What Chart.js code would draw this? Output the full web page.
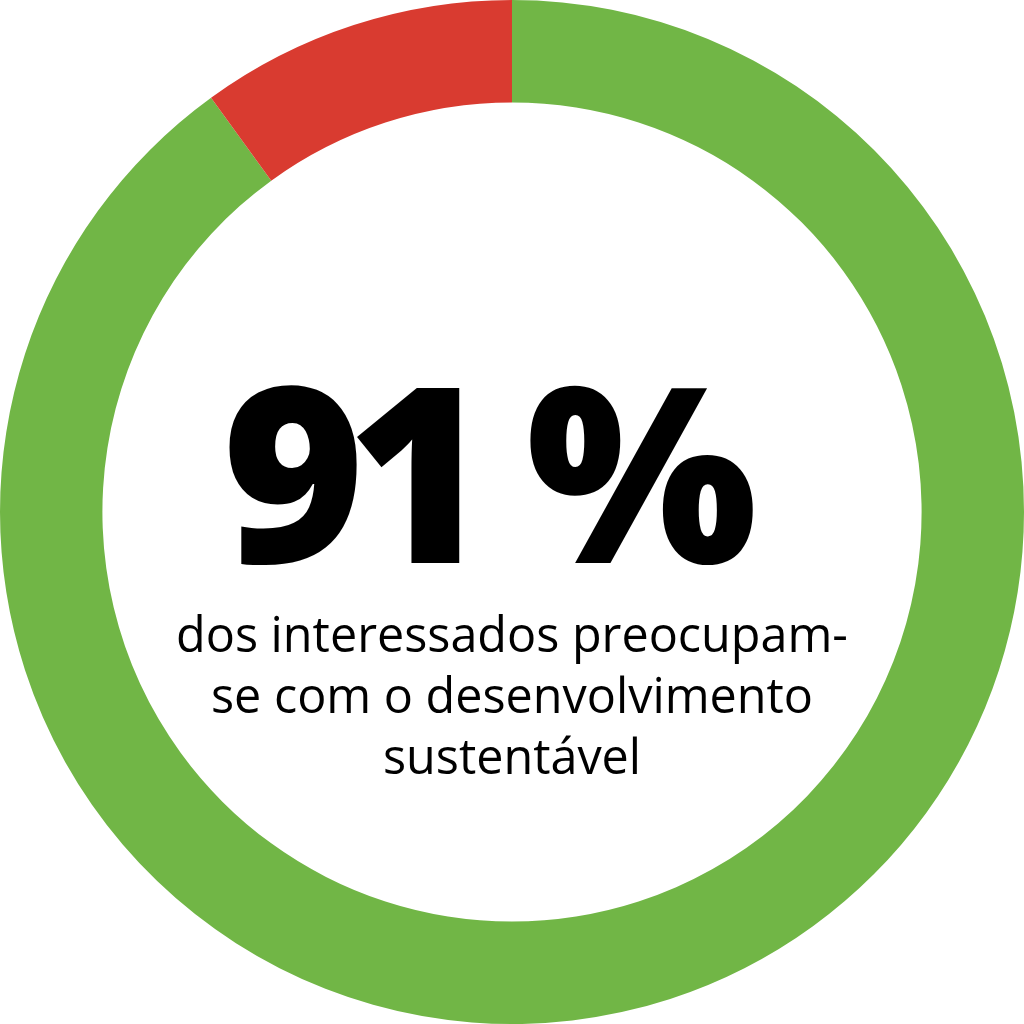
<!DOCTYPE html>
<html>
<head>
<meta charset="utf-8">
<script src="https://cdn.jsdelivr.net/npm/chart.js@4/dist/chart.umd.min.js"></script>
<style>
  html, body { margin: 0; padding: 0; background: #ffffff; }
  #wrap { width: 1024px; height: 1024px; }
</style>
</head>
<body>
<div id="wrap"><canvas id="chart" width="1024" height="1024"></canvas></div>
<script>
// values as drawn: the red slice spans ~36 degrees
const labels = ['Preocupados', 'Não preocupados'];
const shares = [90, 10];
const colors = ['#71b646', '#d93b30'];

const bigNumber = '91';
const bigSign = '%';
const subLines = ['dos interessados preocupam-', 'se com o desenvolvimento', 'sustentável'];

const centerText = {
    id: 'centerText',
    afterDraw(chart) {
        const ctx = chart.ctx;
        const cx = (chart.chartArea.left + chart.chartArea.right) / 2;
        ctx.save();
        ctx.fillStyle = '#000000';
        ctx.textBaseline = 'alphabetic';
        ctx.font = '800 244px "Open Sans"';
        // number and sign drawn apart, number set tight like the original
        ctx.letterSpacing = '-18px';
        ctx.textAlign = 'left';
        ctx.fillText(bigNumber, cx - 290, 563);
        ctx.letterSpacing = '0px';
        ctx.fillText(bigSign, cx + 14, 563);
        ctx.textAlign = 'center';
        ctx.font = '400 48.5px "Open Sans"';
        subLines.forEach((line, i) => {
            ctx.fillText(line, cx, 652 + i * 61);
        });
        ctx.restore();
    }
};

new Chart(document.getElementById('chart').getContext('2d'), {
    type: 'doughnut',
    data: {
        labels: labels,
        datasets: [{
            data: shares,
            backgroundColor: colors,
            borderWidth: 0
        }]
    },
    options: {
        responsive: false,
        animation: false,
        cutout: '80%',
        layout: { padding: 0 },
        plugins: {
            legend: { display: false },
            tooltip: { enabled: false }
        }
    },
    plugins: [centerText]
});
</script>
</body>
</html>
